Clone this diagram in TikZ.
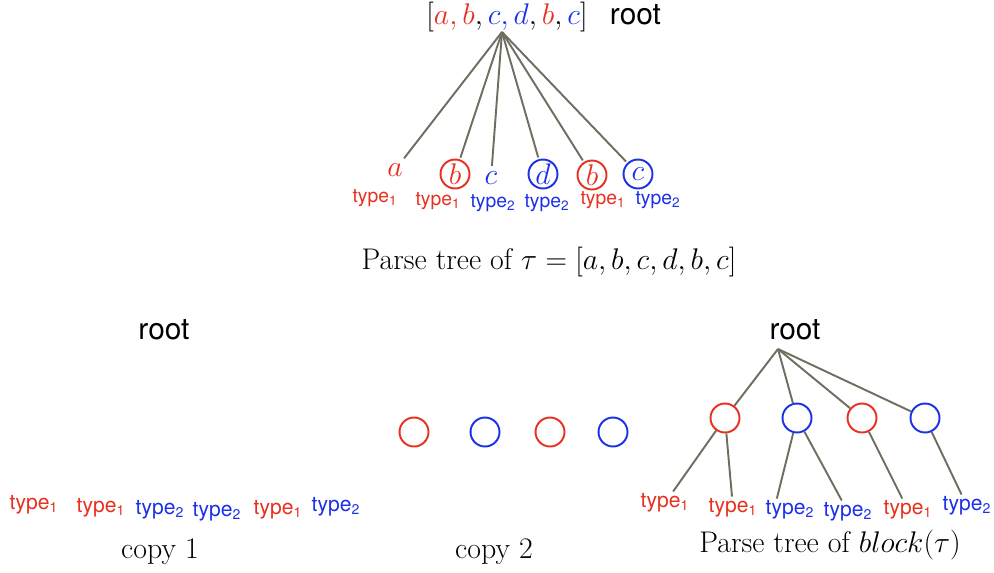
\documentclass[tikz,border=0pt]{standalone}
\usepackage{fix-cm}
\usepackage{amsmath, amssymb}
\usepackage{fontspec}
\setsansfont{TeX Gyre Heros}
\usepackage{tikz}
\usetikzlibrary{positioning, calc}
\usepackage{xcolor}
\definecolor{tred}{RGB}{232,48,30}
\definecolor{tblue}{RGB}{28,48,232}
\definecolor{edgegray}{RGB}{112,110,96}

\begin{document}
\begin{tikzpicture}[x=0.02cm, y=-0.02cm,
  edge/.style={draw=edgegray, line width=1.1pt},
  vert/.style={circle, draw, line width=1.1pt, minimum size=0.58cm, inner sep=0pt},
  leaf/.style={inner sep=2pt},
  rootlbl/.style={font=\sffamily\fontsize{17}{20}\selectfont},
  tylbl/.style={font=\sffamily\fontsize{12}{14}\selectfont, inner sep=1pt},
  tysmall/.style={font=\sffamily\fontsize{11}{13}\selectfont, inner sep=0.5pt},
  captxt/.style={font=\fontsize{17}{20}\selectfont}]
\useasboundingbox (0,0) rectangle (994,572);

\node[captxt] (toplist) at (507,17) {$[\color{tred}a,b\color{black},\color{tblue}c,d\color{black},\color{tred}b\color{black},\color{tblue}c\color{black}]$};
\node[rootlbl, base right=0.2cm of toplist] (roottop) {root};
\coordinate (apex) at (502,32);
\node[captxt, leaf, tred] (la) at (395,170) {$a$};
\node[captxt, vert, tred] (lb1) at (455,174) {$b$};
\node[captxt, leaf, tblue] (lc1) at (491,178) {$c$};
\node[captxt, vert, tblue] (ld) at (543,174) {$d$};
\node[captxt, vert, tred] (lb2) at (592,175) {$b$};
\node[captxt, vert, tblue] (lc2) at (638,174) {$c$};
\foreach \n in {la,lb1,lc1,ld,lb2,lc2}
  \draw[edge, shorten >=1pt] (apex) -- (\n);
\node[tysmall, tred] (ta1) at (375,198) {type\textsubscript{1}};
\node[tysmall, tred] (ta2) at (438,201) {type\textsubscript{1}};
\node[tysmall, tblue] (ta3) at (493,203) {type\textsubscript{2}};
\node[tysmall, tblue] (ta4) at (547,203) {type\textsubscript{2}};
\node[tysmall, tred] (ta5) at (603,200) {type\textsubscript{1}};
\node[tysmall, tblue] (ta6) at (658,200) {type\textsubscript{2}};
\node[captxt] (captop) at (549,262) {Parse tree of $\tau = [a, b, c, d, b, c]$};

\node[rootlbl] (rootL) at (164,330) {root};
\node[tylbl, tred] (tl1) at (34,505) {type\textsubscript{1}};
\node[tylbl, tred] (tl2) at (101,508) {type\textsubscript{1}};
\node[tylbl, tblue] (tl3) at (160,510) {type\textsubscript{2}};
\node[tylbl, tblue] (tl4) at (217,512) {type\textsubscript{2}};
\node[tylbl, tred] (tl5) at (278,510) {type\textsubscript{1}};
\node[tylbl, tblue] (tl6) at (336,507) {type\textsubscript{2}};
\node[captxt] (copyA) at (160,552) {copy 1};

\node[vert, tred] (m1) at (414,432) {};
\node[vert, tblue] (m2) at (485,432) {};
\node[vert, tred] (m3) at (550,432) {};
\node[vert, tblue] (m4) at (613,432) {};
\node[captxt] (copyB) at (494,552) {copy 2};

\node[rootlbl] (rootR) at (795,330) {root};
\coordinate (apexR) at (778,349);
\node[vert, tred] (r1) at (725,418) {};
\node[vert, tblue] (r2) at (797,418) {};
\node[vert, tred] (r3) at (862,418) {};
\node[vert, tblue] (r4) at (925,418) {};
\foreach \n in {r1,r2,r3,r4}
  \draw[edge] (apexR) -- (\n);
\node[tylbl, tred] (tr1) at (665,503) {type\textsubscript{1}};
\node[tylbl, tred] (tr2) at (733,508) {type\textsubscript{1}};
\node[tylbl, tblue] (tr3) at (790,510) {type\textsubscript{2}};
\node[tylbl, tblue] (tr4) at (848,512) {type\textsubscript{2}};
\node[tylbl, tred] (tr5) at (908,510) {type\textsubscript{1}};
\node[tylbl, tblue] (tr6) at (967,506) {type\textsubscript{2}};
\draw[edge] (r1) -- (tr1);
\draw[edge] (r1) -- (tr2);
\draw[edge] (r2) -- ($(tr3.north)!0.5!(tr3.north west)$);
\draw[edge] (r2) -- (tr4);
\draw[edge] (r3) -- (tr5);
\draw[edge] (r4) -- (tr6);
\node[captxt] (capR) at (830,545) {Parse tree of $block(\tau)$};
\end{tikzpicture}
\end{document}
